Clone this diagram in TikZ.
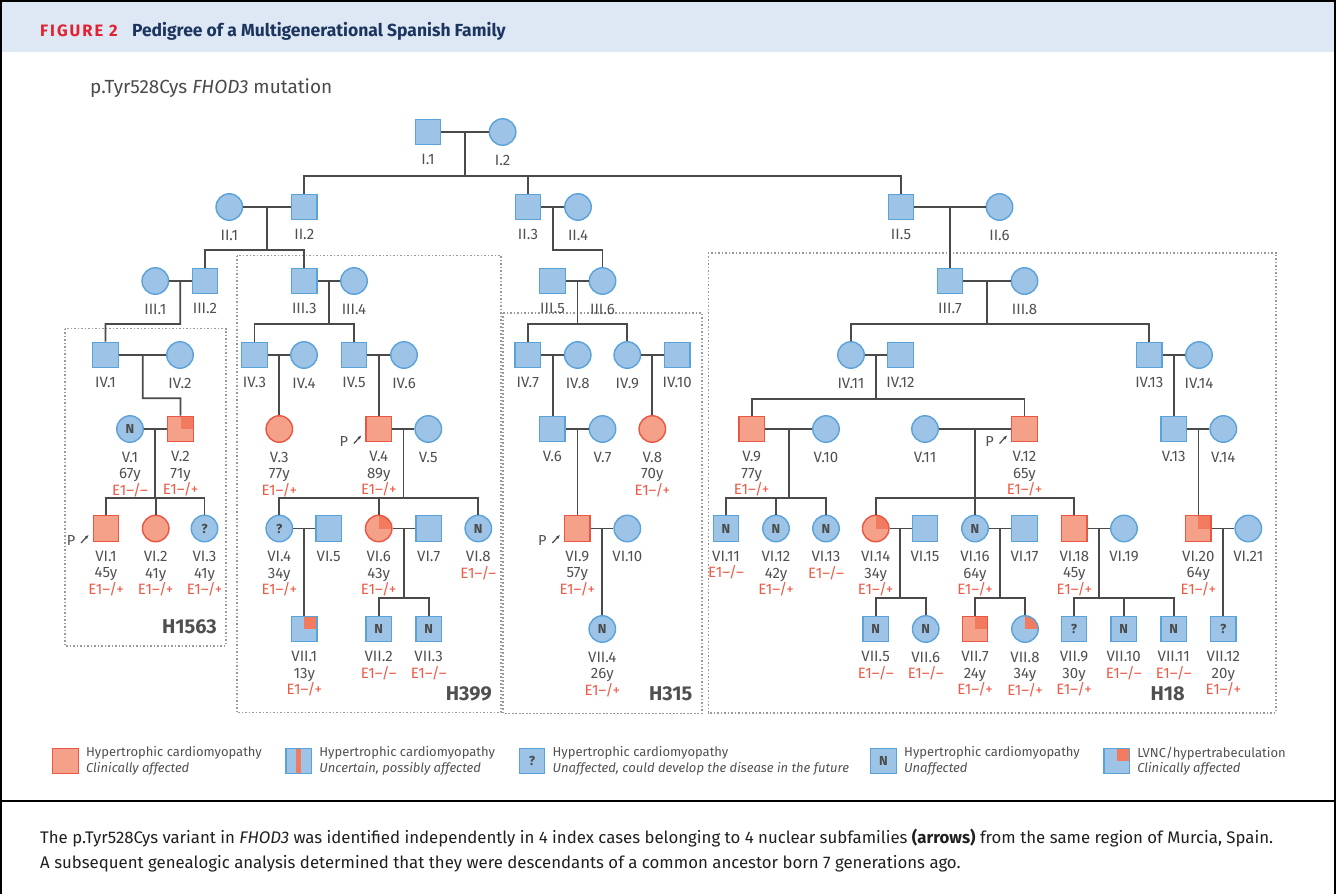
\documentclass[tikz,border=0pt]{standalone}
\usepackage{fontspec}
\setmainfont{Fira Sans}
\usetikzlibrary{arrows.meta,positioning,calc}
\definecolor{Ink}{HTML}{4A4A4A}
\definecolor{boxfill}{HTML}{9DC3E6}
\definecolor{boxline}{HTML}{5AA2DA}
\definecolor{hcmfill}{HTML}{F5A088}
\definecolor{hcmline}{HTML}{EA5641}
\definecolor{lvfill}{HTML}{F27B5F}
\definecolor{labtext}{HTML}{505050}
\definecolor{gentext}{HTML}{EE5A45}
\definecolor{band}{HTML}{DDE8F4}
\definecolor{figred}{HTML}{E2202F}
\definecolor{navy}{HTML}{1C355E}
\definecolor{dotgrey}{HTML}{9A9A9A}
\newcommand{\gpos}{\textcolor{gentext}{E1–/+}}
\newcommand{\gneg}{\textcolor{gentext}{E1–/–}}
\tikzset{
  ln/.style={draw=Ink,line width=1.8pt},
  frame/.style={draw=black,line width=1.6pt},
  ind/.style={draw=boxline,fill=boxfill,line width=1.4pt,inner sep=0pt,font=\fontsize{13}{13}\selectfont\bfseries,text=Ink},
  male/.style={ind,rectangle,minimum size=25.5pt},
  fem/.style={ind,circle,minimum size=26.5pt},
  hcm/.style={draw=hcmline,fill=hcmfill},
  lv/.style={path picture={\fill[lvfill] (path picture bounding box.center) rectangle (path picture bounding box.north east);}},
  unc/.style={path picture={\fill[lvfill] ([xshift=-2.7pt]path picture bounding box.south) rectangle ([xshift=2.7pt]path picture bounding box.north);}},
  lab/.style={font=\fontsize{15}{16.5}\selectfont,text=labtext,align=center,inner sep=0pt},
  lbl/.style={label={[lab,label distance=9pt]below:{#1}}},
  fam/.style={draw=dotgrey,line width=1.6pt,dash pattern=on 1.6pt off 1.9pt},
  famname/.style={font=\fontsize{20}{20}\selectfont\bfseries,text=labtext,anchor=east,inner sep=0pt},
  pl/.style={font=\fontsize{14.5}{14.5}\selectfont,text=labtext,inner sep=0pt},
  pr/.style={draw=Ink,line width=1.2pt,-{Latex[length=4.5pt,width=3.2pt]}},
  key/.style={font=\fontsize{13}{15.6}\selectfont,text=labtext,align=left,inner sep=0pt},
}
\newcommand{\proband}[1]{%
  \node[pl] (#1p) at ($(#1)+(-35,12)$) {P};
  \draw[pr] ($(#1)+(-25,14.5)$) -- ($(#1)+(-17,6)$);}

\begin{document}
\begin{tikzpicture}[x=1pt,y=-1pt]
\useasboundingbox (0,0) rectangle (1336,894);
% -frame and titles-
\fill[band] (1.5,1.5) rectangle (1334.5,52);
\draw[frame] (1,894) -- (1,1) -- (1335,1) -- (1335,894);
\draw[frame] (1,801) -- (1335,801);
\node[anchor=west,inner sep=0pt,font=\fontsize{16.5}{16.5}\selectfont\bfseries,text=figred] (fignum) at (40,31) {\addfontfeatures{LetterSpace=12}FIGURE 2};
\node[anchor=base west,inner sep=0pt,font=\fontsize{17.5}{17.5}\selectfont\bfseries,text=navy] (figttl) at ([xshift=14pt]fignum.base east) {Pedigree of a Multigenerational Spanish Family};
\node[anchor=west,inner sep=0pt,font=\fontsize{19}{19}\selectfont,text=Ink] (mut) at (90,88) {p.Tyr528Cys \textit{FHOD3} mutation};

% -subfamily boxes-
\draw[fam] (65,328.5) rectangle (225.7,645.7);
\draw[fam] (236.7,255.5) rectangle (501,712.5);
\draw[fam] (503,312.7) rectangle (701.7,713.3);
\draw[fam] (708.3,252.7) rectangle (1276,712.7);
\node[famname] (h1563) at (217,627) {H1563};
\node[famname] (h399) at (492,693.5) {H399};
\node[famname] (h315) at (692.5,693.5) {H315};
\node[famname] (h18) at (1185,694) {H18};

% -gen I-
\node[male,lbl={I.1}] (I1) at (428,132) {};
\node[fem,lbl={I.2}] (I2) at (502.6,132) {};
% -gen II-
\node[fem,lbl={II.1}] (II1) at (229.3,207) {};
\node[male,lbl={II.2}] (II2) at (304.3,207) {};
\node[male,lbl={II.3}] (II3) at (528,207) {};
\node[fem,lbl={II.4}] (II4) at (578,207) {};
\node[male,lbl={II.5}] (II5) at (901,207) {};
\node[fem,lbl={II.6}] (II6) at (999.5,207) {};
% -gen III-
\node[fem,lbl={III.1}] (III1) at (155.3,281) {};
\node[male,lbl={III.2}] (III2) at (205,281) {};
\node[male,lbl={III.3}] (III3) at (304.3,281) {};
\node[fem,lbl={III.4}] (III4) at (354,281) {};
\node[male,lbl={III.5}] (III5) at (552.5,281) {};
\node[fem,lbl={III.6}] (III6) at (602.5,281) {};
\node[male,lbl={III.7}] (III7) at (950,281) {};
\node[fem,lbl={III.8}] (III8) at (1024.5,281) {};
% -gen IV-
\node[male,lbl={IV.1}] (IV1) at (105.5,355) {};
\node[fem,lbl={IV.2}] (IV2) at (180,355) {};
\node[male,lbl={IV.3}] (IV3) at (254.5,355) {};
\node[fem,lbl={IV.4}] (IV4) at (304,355) {};
\node[male,lbl={IV.5}] (IV5) at (354,355) {};
\node[fem,lbl={IV.6}] (IV6) at (404,355) {};
\node[male,lbl={IV.7}] (IV7) at (527.8,355) {};
\node[fem,lbl={IV.8}] (IV8) at (577.7,355) {};
\node[fem,lbl={IV.9}] (IV9) at (627.3,355) {};
\node[male,lbl={IV.10}] (IV10) at (677.2,355) {};
\node[fem,lbl={IV.11}] (IV11) at (851,355) {};
\node[male,lbl={IV.12}] (IV12) at (900.5,355) {};
\node[male,lbl={IV.13}] (IV13) at (1149.3,355) {};
\node[fem,lbl={IV.14}] (IV14) at (1199,355) {};
% -gen V-
\node[fem,lbl={V.1\\67y\\\gneg}] (V1) at (130,429) {N};
\node[male,hcm,lv,lbl={V.2\\71y\\\gpos}] (V2) at (180.5,429) {};
\node[fem,hcm,lbl={V.3\\77y\\\gpos}] (V3) at (279.3,429) {};
\node[male,hcm,lbl={V.4\\89y\\\gpos}] (V4) at (378.8,429) {};
\node[fem,lbl={V.5}] (V5) at (428.3,429) {};
\node[male,lbl={V.6}] (V6) at (552.3,429) {};
\node[fem,lbl={V.7}] (V7) at (602.5,429) {};
\node[fem,hcm,lbl={V.8\\70y\\\gpos}] (V8) at (652.3,429) {};
\node[male,hcm,lbl={V.9\\77y\\\gpos}] (V9) at (751.7,429) {};
\node[fem,lbl={V.10}] (V10) at (826,429) {};
\node[fem,lbl={V.11}] (V11) at (925,429) {};
\node[male,hcm,lbl={V.12\\65y\\\gpos}] (V12) at (1024.5,429) {};
\node[male,lbl={V.13}] (V13) at (1173.7,429) {};
\node[fem,lbl={V.14}] (V14) at (1223.3,429) {};
% -gen VI-
\node[male,hcm,lbl={VI.1\\45y\\\gpos}] (VI1) at (106,528.5) {};
\node[fem,hcm,lbl={VI.2\\41y\\\gpos}] (VI2) at (155.7,528.5) {};
\node[fem,lbl={VI.3\\41y\\\gpos}] (VI3) at (204.5,528.5) {?};
\node[fem,lbl={VI.4\\34y\\\gpos}] (VI4) at (279.3,528.5) {?};
\node[male,lbl={VI.5}] (VI5) at (328.7,528.5) {};
\node[fem,hcm,lv,lbl={VI.6\\43y\\\gpos}] (VI6) at (378.7,528.5) {};
\node[male,lbl={VI.7}] (VI7) at (428.7,528.5) {};
\node[fem,lbl={VI.8\\\gneg}] (VI8) at (478.3,528.5) {N};
\node[male,hcm,lbl={VI.9\\57y\\\gpos}] (VI9) at (577.3,528.5) {};
\node[fem,lbl={VI.10}] (VI10) at (627.3,528.5) {};
\node[male,lbl={VI.11\\\gneg}] (VI11) at (726,528.5) {N};
\node[fem,lbl={VI.12\\42y\\\gpos}] (VI12) at (776,528.5) {N};
\node[fem,lbl={VI.13\\\gneg}] (VI13) at (826,528.5) {N};
\node[fem,hcm,lv,lbl={VI.14\\34y\\\gpos}] (VI14) at (875.7,528.5) {};
\node[male,lbl={VI.15}] (VI15) at (925,528.5) {};
\node[fem,lbl={VI.16\\64y\\\gpos}] (VI16) at (975,528.5) {N};
\node[male,lbl={VI.17}] (VI17) at (1024.5,528.5) {};
\node[male,hcm,lbl={VI.18\\45y\\\gpos}] (VI18) at (1074.3,528.5) {};
\node[fem,lbl={VI.19}] (VI19) at (1124,528.5) {};
\node[male,hcm,lv,lbl={VI.20\\64y\\\gpos}] (VI20) at (1198.3,528.5) {};
\node[fem,lbl={VI.21}] (VI21) at (1248.3,528.5) {};
% -gen VII-
\node[male,lv,lbl={VII.1\\13y\\\gpos}] (VII1) at (304.3,629) {};
\node[male,lbl={VII.2\\\gneg}] (VII2) at (378.7,629) {N};
\node[male,lbl={VII.3\\\gneg}] (VII3) at (428.7,629) {N};
\node[fem,lbl={VII.4\\26y\\\gpos}] (VII4) at (602.3,629) {N};
\node[male,lbl={VII.5\\\gneg}] (VII5) at (875.7,629) {N};
\node[fem,lbl={VII.6\\\gneg}] (VII6) at (925.7,629) {N};
\node[male,hcm,lv,lbl={VII.7\\24y\\\gpos}] (VII7) at (975,629) {};
\node[fem,lv,lbl={VII.8\\34y\\\gpos}] (VII8) at (1025,629) {};
\node[male,lbl={VII.9\\30y\\\gpos}] (VII9) at (1074,629) {?};
\node[male,lbl={VII.10\\\gneg}] (VII10) at (1123.7,629) {N};
\node[male,lbl={VII.11\\\gneg}] (VII11) at (1173.7,629) {N};
\node[male,lbl={VII.12\\20y\\\gpos}] (VII12) at (1223.3,629) {?};

% -probands-
\proband{VI1}
\proband{V4}
\proband{VI9}
\proband{V12}

% -couples-
\foreach \a/\b in {I1/I2,II1/II2,II3/II4,II5/II6,III1/III2,III3/III4,III5/III6,III7/III8,
  IV1/IV2,IV3/IV4,IV5/IV6,IV7/IV8,IV9/IV10,IV11/IV12,IV13/IV14,V1/V2,V4/V5,V6/V7,V9/V10,V11/V12,V13/V14,
  VI4/VI5,VI6/VI7,VI9/VI10,VI14/VI15,VI16/VI17,VI18/VI19,VI20/VI21}
  {\draw[ln] (\a) -- (\b);
   \coordinate (\a m) at ($(\a)!.5!(\b)$);}

% -single child lines-
\foreach \a/\c in {II5/III7,IV3/V3,IV5/V4,IV7/V6,IV9/V8,IV13/V13,V6/VI9,V13/VI20,VI4/VII1,VI9/VII4,VI20/VII12}
  {\draw[ln] (\a m) -- (\a m |- \c.north);}

% -bent child lines-
\coordinate (II3s) at (553,250);
\coordinate (III1s) at (180.2,324);
\coordinate (IV1s) at (142.8,398.3);
\draw[ln] (II3m) -- (II3s) -| (III6.north);
\draw[ln] (III1m) -- (III1s) -| (IV1.north);
\draw[ln] (IV1m) -- (IV1s) -| (V2.north);

% -sibships-
\foreach \a/\y/\kids in {I1/176/{II2,II3,II5},II1/250/{III2,III3},III3/324.3/{IV3,IV5},III5/324.3/{IV7,IV9},
  III7/324.3/{IV11,IV13},IV11/399/{V9,V12},V1/498/{VI1,VI2,VI3},V4/498/{VI4,VI6,VI8},V9/498/{VI11,VI12,VI13},
  V11/498/{VI14,VI16,VI18},VI6/598/{VII2,VII3},VI14/598/{VII5,VII6},VI16/598/{VII7,VII8},VI18/598/{VII9,VII10,VII11}}
  {\coordinate (\a s) at (\a m |- 0,\y);
   \draw[ln] (\a m) -- (\a s);
   \foreach \k in \kids {\draw[ln] (\k.north) |- (\a s);}}

% -legend-
\node[male,hcm] (k1) at (65.5,761) {};
\node[key,right=7pt of k1] (k1t) {Hypertrophic cardiomyopathy\\\textit{Clinically affected}};
\node[male,unc] (k2) at (298.7,761) {};
\node[key,right=7pt of k2] (k2t) {Hypertrophic cardiomyopathy\\\textit{Uncertain, possibly affected}};
\node[male] (k3) at (532,761) {?};
\node[key,right=7pt of k3] (k3t) {Hypertrophic cardiomyopathy\\\textit{Unaffected, could develop the disease in the future}};
\node[male] (k4) at (883.5,761) {N};
\node[key,right=7pt of k4] (k4t) {Hypertrophic cardiomyopathy\\\textit{Unaffected}};
\node[male,lv] (k5) at (1116.6,761) {};
\node[key,right=7pt of k5] (k5t) {LVNC/hypertrabeculation\\\textit{Clinically affected}};

% -caption-
\node[anchor=west,inner sep=0pt,align=left,font=\fontsize{16.8}{25}\selectfont,text=black!88] (capt) at (40,850.5) {The p.Tyr528Cys variant in \textit{FHOD3} was identified independently in 4 index cases belonging to 4 nuclear subfamilies \textbf{(arrows)} from the same region of Murcia, Spain.\\A subsequent genealogic analysis determined that they were descendants of a common ancestor born 7 generations ago.};
\end{tikzpicture}
\end{document}
